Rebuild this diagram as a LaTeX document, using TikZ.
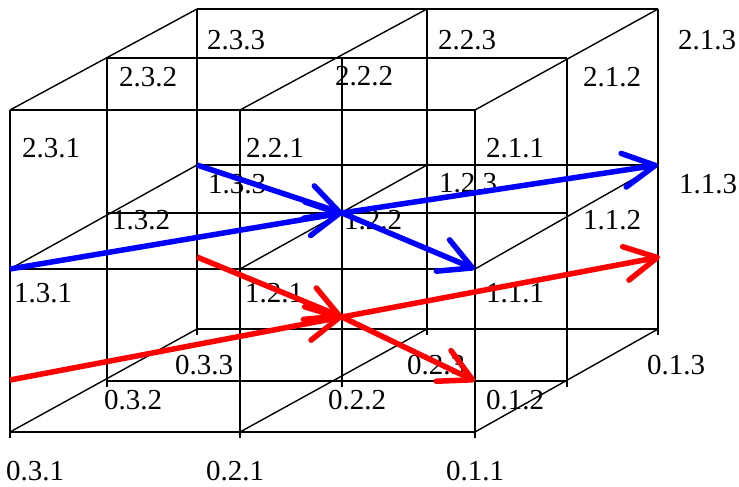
\documentclass[tikz,border=0pt]{standalone}
\usepackage{fontspec}
\setmainfont{Liberation Serif}
\usepackage{tikz}
\usetikzlibrary{arrows.meta}
\usepackage{xcolor}

\begin{document}
\begin{tikzpicture}[x=1pt, y=-1pt,
    grid/.style={line width=1.4pt},
    lbl/.style={font=\fontsize{29}{32}\selectfont, inner sep=0pt},
    flow/.style={line width=5.5pt, -{Straight Barb[length=32pt, width=34pt, round]}}]
    \useasboundingbox (0,0) rectangle (739,487);

    % lattice points p<level><column><depth>
    \foreach \k/\xa/\xb/\xc/\ya/\yb/\yc in {1/10/240/475/432/269/110, 2/107/342/567/381/213/58, 3/197/427/658/329/165/9}
        \foreach \i/\y in {0/\ya, 1/\yb, 2/\yc}
            \foreach \j/\x in {3/\xa, 2/\xb, 1/\xc}
                \coordinate (p\i\j\k) at (\x,\y);

    % grid lines
    \foreach \i in {0,1,2}
        \foreach \k in {1,2,3}
            \draw[grid] (p\i3\k) -- (p\i1\k);
    \foreach \i in {0,1,2}
        \foreach \j in {1,2,3}
            \draw[grid] (p\i\j1) -- (p\i\j3);
    \foreach \j in {1,2,3}
        \foreach \k in {1,2,3}
            \draw[grid] (p2\j\k) -- ([yshift=-6pt]p0\j\k);

    % labels
    \foreach \i/\j/\k/\x/\y in {2/3/1/51/148, 2/3/2/148/77, 2/3/3/236/40, 2/2/1/275/148, 2/2/2/364/76, 2/2/3/467/40, 2/1/1/515/148, 2/1/2/612/77, 2/1/3/707/40,
        1/3/1/43/293, 1/3/2/141/220, 1/3/3/237/184, 1/2/1/274/293, 1/2/2/373/220, 1/2/3/468/183, 1/1/1/515/293, 1/1/2/612/220, 1/1/3/708/184,
        0/3/1/35/471, 0/3/2/133/400, 0/3/3/204/365, 0/2/1/235/471, 0/2/2/357/400, 0/2/3/436/365, 0/1/1/475/471, 0/1/2/515/400, 0/1/3/676/365}
        \node[lbl] (l\i\j\k) at (\x,\y) {\i.\j.\k};

    % blue arrows
    \draw[flow, blue] (p131) -- (p122);
    \draw[flow, blue] (p122) -- (p113);
    \draw[flow, blue] (p133) -- (p122);
    \draw[flow, blue] (p122) -- (p111);

    % red arrows
    \coordinate (q31) at (10,380);
    \coordinate (q33) at (197,257);
    \coordinate (q22) at (342,317);
    \coordinate (q13) at (660,257);
    \coordinate (q11) at (475,381);
    \draw[flow, red] (q31) -- (q22);
    \draw[flow, red] (q22) -- (q13);
    \draw[flow, red] (q33) -- (q22);
    \draw[flow, red] (q22) -- (q11);
\end{tikzpicture}
\end{document}
